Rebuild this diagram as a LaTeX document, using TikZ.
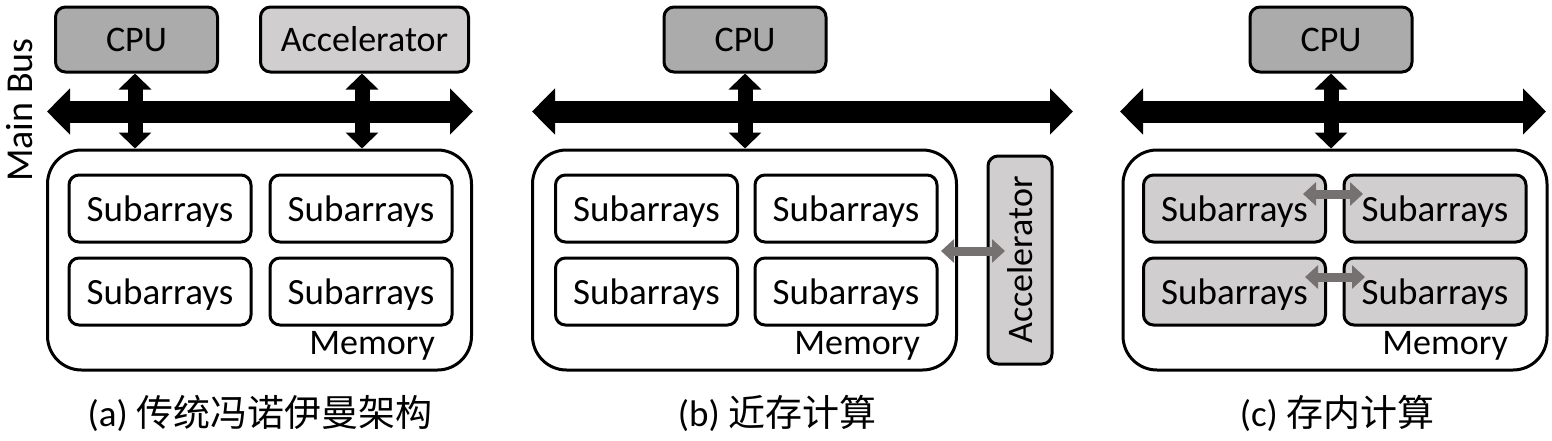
\documentclass[tikz,border=0pt]{standalone}
\usepackage{fontspec}
\setmainfont{Carlito}
\newfontfamily\cjk{Noto Sans CJK SC}
\usetikzlibrary{arrows.meta}
\definecolor{cpugray}{HTML}{ABABAB}
\definecolor{lightgray2}{HTML}{D0CECE}
\definecolor{arrowgray}{HTML}{767171}
\tikzset{
  box/.style={draw=black, line width=3pt, rounded corners=10pt, inner sep=0pt, font=\fontsize{36}{43}\selectfont},
  cpubox/.style={box, fill=cpugray, minimum width=162pt, minimum height=65pt},
  accbox/.style={box, fill=lightgray2, minimum height=65pt},
  subbox/.style={box, fill=white, minimum width=182pt, minimum height=67pt, font=\fontsize{37}{44}\selectfont, text height=35pt, text depth=9pt},
  subgray/.style={subbox, fill=lightgray2},
  membox/.style={draw=black, line width=3pt, rounded corners=34pt, fill=white, minimum width=424pt, minimum height=220pt, inner sep=0pt},
  memlabel/.style={anchor=base east, inner sep=0pt, font=\fontsize{36}{43}\selectfont},
  caption/.style={inner sep=0pt, font=\fontsize{37}{44}\selectfont},
  busarrow/.style={line width=22pt, arrows={Triangle[length=23pt,width=45pt]-Triangle[length=23pt,width=45pt]}},
  vertarrow/.style={line width=15pt, arrows={Triangle[length=16pt,width=32pt]-Triangle[length=16pt,width=32pt]}},
  grayarrow/.style={draw=arrowgray, line width=9pt, arrows={Triangle[length=13pt,width=23pt]-Triangle[length=13pt,width=23pt]}}
}
\begin{document}
\begin{tikzpicture}[x=1pt,y=-1pt]
\useasboundingbox (0,0) rectangle (1552,440);
% ---------- (a) ----------
\node[rotate=90, inner sep=0pt, font=\fontsize{38}{45}\selectfont] (mainbus) at (20,110) {Main Bus};
\coordinate (busAL) at (47,111.5);
\coordinate (busAR) at (473,111.5);
\draw[busarrow] (busAL) -- (busAR);
\node[membox] (memA) at (259.5,260) {};
\node[cpubox] (cpuA) at (136.5,39.5) {CPU};
\node[accbox, minimum width=208pt] (accA) at (364.5,39.5) {Accelerator};
\draw[vertarrow] ([xshift=-1.5pt]cpuA.south) -- ([xshift=-1.5pt]cpuA.south |- memA.north);
\draw[vertarrow] ([xshift=-2.5pt]accA.south) -- ([xshift=-2.5pt]accA.south |- memA.north);
\node[subbox] (sA1) at (160,208.5) {Subarrays};
\node[subbox] (sA2) at (361,208.5) {Subarrays};
\node[subbox] (sA3) at (160,291.5) {Subarrays};
\node[subbox] (sA4) at (361,291.5) {Subarrays};
\node[memlabel] (mlA) at (435,354) {Memory};
\node[caption] (capA) at (260,413) {(a) {\fontsize{37}{44}\selectfont\cjk 传统冯诺伊曼架构}};
% ---------- (b) ----------
\coordinate (busBL) at (532,111.5);
\coordinate (busBR) at (1073,111.5);
\draw[busarrow] (busBL) -- (busBR);
\node[membox] (memB) at (744.5,260) {};
\node[cpubox] (cpuB) at (745,39.5) {CPU};
\draw[vertarrow] (cpuB.south) -- (cpuB.south |- memB.north);
\node[subbox] (sB1) at (646.5,208.5) {Subarrays};
\node[subbox] (sB2) at (846,208.5) {Subarrays};
\node[subbox] (sB3) at (646.5,291.5) {Subarrays};
\node[subbox] (sB4) at (846,291.5) {Subarrays};
\node[memlabel] (mlB) at (920,354) {Memory};
\node[box, fill=lightgray2, minimum width=64pt, minimum height=208pt] (accB) at (1020,260) {};
\node[rotate=90, inner sep=0pt, font=\fontsize{36}{43}\selectfont] (accBt) at (accB.center) {Accelerator};
\coordinate (gBL) at (941,251);
\coordinate (gBR) at (1005,251);
\draw[grayarrow] (gBL) -- (gBR);
\node[caption] (capB) at (777,413) {(b) {\fontsize{37}{44}\selectfont\cjk 近存计算}};
% ---------- (c) ----------
\coordinate (busCL) at (1120,111.5);
\coordinate (busCR) at (1546,111.5);
\draw[busarrow] (busCL) -- (busCR);
\node[membox] (memC) at (1335,260) {};
\node[cpubox] (cpuC) at (1331,39.5) {CPU};
\draw[vertarrow] (cpuC.south) -- (cpuC.south |- memC.north);
\node[subgray] (sC1) at (1234.5,208.5) {Subarrays};
\node[subgray] (sC2) at (1435,208.5) {Subarrays};
\node[subgray] (sC3) at (1234.5,291.5) {Subarrays};
\node[subgray] (sC4) at (1435,291.5) {Subarrays};
\coordinate (gC1L) at (1303,194);
\coordinate (gC1R) at (1363,194);
\coordinate (gC2L) at (1305,277);
\coordinate (gC2R) at (1365,277);
\draw[grayarrow] (gC1L) -- (gC1R);
\draw[grayarrow] (gC2L) -- (gC2R);
\node[memlabel] (mlC) at (1508,354) {Memory};
\node[caption] (capC) at (1337,413) {(c) {\fontsize{37}{44}\selectfont\cjk 存内计算}};
\end{tikzpicture}
\end{document}
